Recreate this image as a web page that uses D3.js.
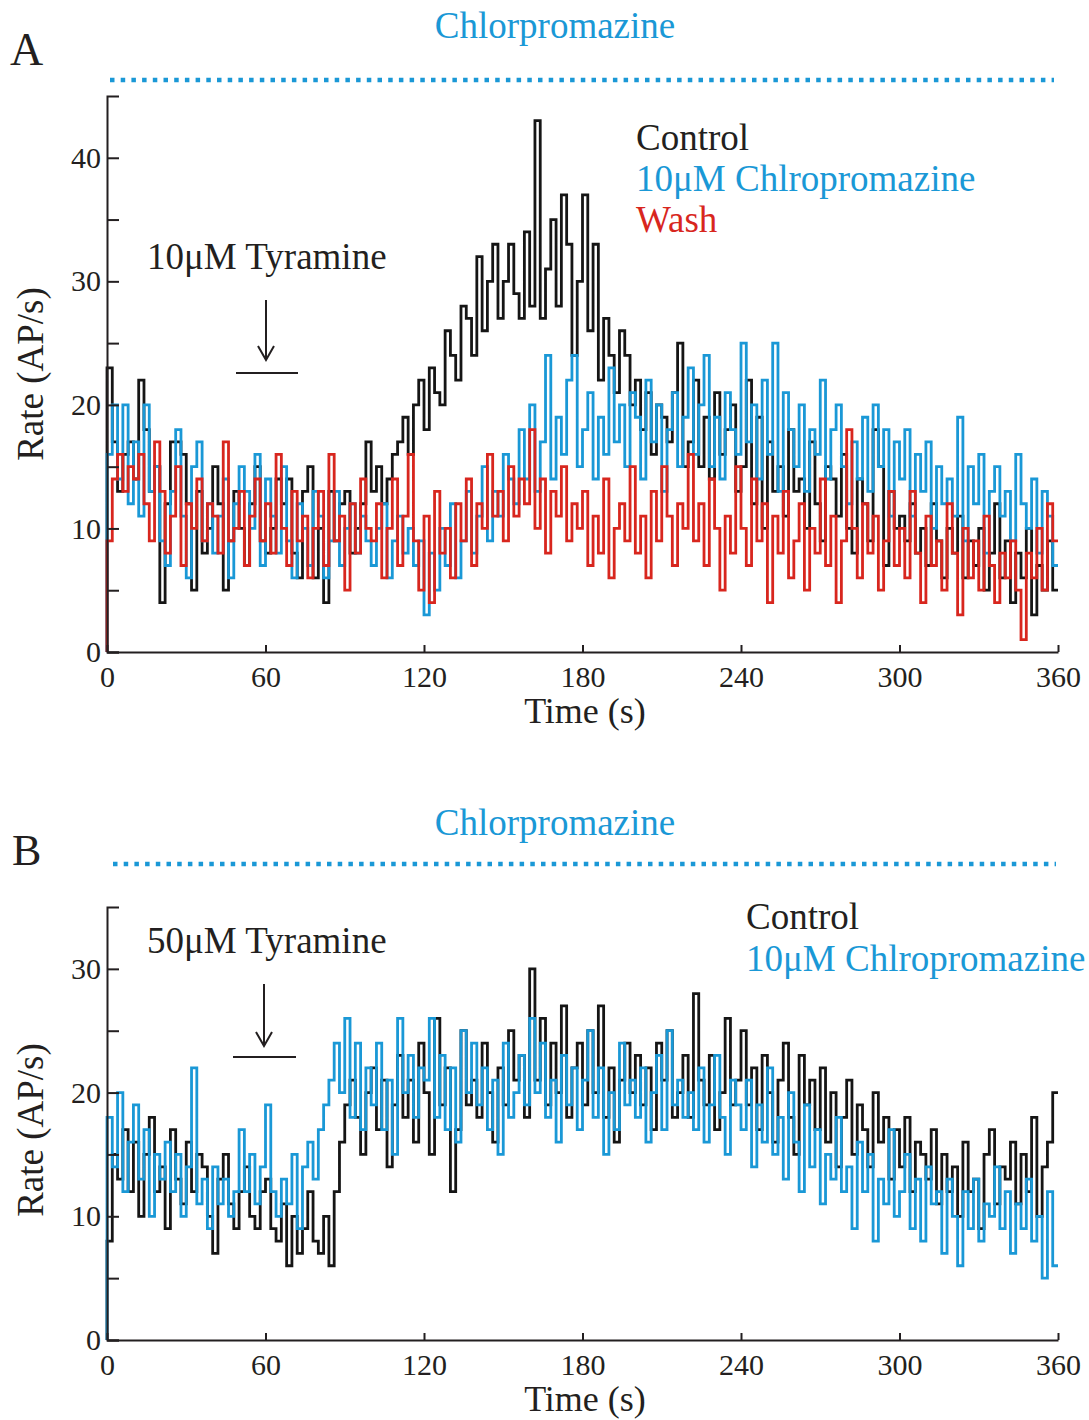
<!DOCTYPE html>
<html>
<head>
<meta charset="utf-8">
<script src="https://cdn.jsdelivr.net/npm/d3@7"></script>
<style>
  body { margin: 0; background: #fff; }
  text { font-family: "Liberation Serif", "Times New Roman", serif; }
</style>
</head>
<body>
<script>
// bins are 2 s wide, values in AP/s
const binWidth = 2;
const xTicks = [0, 60, 120, 180, 240, 300, 360];
const yTicksA = [0, 5, 10, 15, 20, 25, 30, 35, 40];
const yTicksB = [0, 5, 10, 15, 20, 25, 30];

// panel A: 10uM tyramine
const controlA = [
  23,17,13,16,17,14,22,18,13,15,
  4,12,17,17,16,12,5,13,8,10,
  15,12,5,9,13,10,7,12,15,9,
  8,10,14,12,14,8,6,13,15,6,
  10,4,13,9,12,13,8,10,12,17,
  13,15,12,14,16,17,19,16,20,22,
  18,23,21,20,26,24,22,28,27,24,
  32,26,30,33,27,30,33,29,27,34,
  28,43,27,31,35,28,37,33,24,30,
  37,26,33,22,27,24,21,26,24,20,
  22,18,21,16,20,19,17,21,25,15,
  17,22,15,19,14,21,16,18,20,13,
  15,22,12,19,10,17,13,15,11,18,
  13,14,10,17,12,9,15,14,11,16,
  10,8,14,12,9,18,15,7,13,10,
  11,9,12,8,10,7,12,9,6,10,
  8,11,6,9,7,10,5,8,12,6,
  9,4,8,6,10,3,7,5,9,5
];
const chlorA = [
  16,20,14,20,12,17,11,20,13,15,
  9,7,13,18,11,6,15,17,9,12,
  8,11,14,6,12,15,13,10,16,7,
  14,11,8,15,9,6,12,10,7,13,
  11,6,9,13,7,10,12,8,11,9,
  7,10,12,6,9,11,8,10,7,9,
  3,8,5,10,7,12,6,9,13,8,
  11,15,9,13,11,16,14,12,18,14,
  20,13,17,24,14,19,16,22,24,15,
  18,21,14,19,16,23,17,20,15,21,
  19,14,22,17,20,13,18,21,15,19,
  23,16,20,24,15,19,14,21,18,16,
  25,17,20,14,22,16,25,13,21,18,
  15,20,13,18,16,22,14,18,20,15,
  12,17,14,19,13,20,15,18,11,17,
  14,18,11,16,13,17,10,15,12,14,
  11,19,9,15,12,16,8,13,15,11,
  13,9,16,12,10,14,8,13,11,7
];
const washA = [
  9,14,16,13,15,14,16,12,9,17,
  13,8,11,15,7,12,10,14,9,12,
  11,8,17,9,10,13,7,11,14,9,
  12,8,16,10,7,13,9,11,6,10,
  13,7,16,9,11,5,12,8,14,10,
  9,12,6,10,14,7,11,16,9,5,
  11,4,13,8,10,6,12,9,14,7,
  12,10,16,11,13,9,15,11,14,12,
  18,10,14,8,13,11,15,9,12,10,
  13,7,11,8,14,6,10,12,9,15,
  8,11,6,13,9,15,11,7,12,10,
  16,9,12,7,14,10,5,11,8,15,
  10,7,14,9,12,4,11,8,13,6,
  9,12,5,10,8,14,7,11,4,9,
  18,10,6,12,8,11,5,9,13,7,
  10,6,13,8,4,11,7,9,5,12,
  8,3,10,6,9,5,11,7,4,8,
  6,9,5,1,8,6,10,5,12,9
];

// panel B: 50uM tyramine
const controlB = [
  8,15,13,17,12,16,10,15,18,12,
  14,9,17,13,11,16,12,15,14,10,
  7,13,15,11,9,12,14,10,9,12,
  13,9,8,11,6,10,7,9,12,8,
  7,10,6,12,16,19,21,18,15,20,
  22,17,21,14,19,23,18,21,16,24,
  20,15,26,19,22,12,17,25,19,21,
  18,24,20,16,22,19,25,21,23,18,
  30,21,26,19,24,20,27,18,22,24,
  19,25,20,27,18,22,16,21,24,20,
  23,19,22,17,24,21,25,18,20,23,
  18,28,21,19,23,17,20,26,19,21,
  25,19,22,17,23,20,16,21,24,18,
  15,23,19,21,17,22,16,20,14,18,
  21,15,19,17,14,20,16,18,13,17,
  14,18,12,16,15,13,17,11,15,12,
  14,10,16,12,13,9,15,17,11,14,
  13,16,11,15,12,18,10,14,16,20
];
const chlorB = [
  18,14,20,12,16,19,13,17,10,15,
  13,16,12,15,10,14,22,11,13,9,
  14,11,13,10,12,17,12,15,11,14,
  19,12,10,13,11,15,9,14,16,13,
  17,19,21,24,20,26,18,24,17,22,
  19,24,17,21,15,26,20,23,18,22,
  21,26,18,23,17,22,16,25,20,24,
  19,22,17,21,15,24,18,20,23,19,
  26,20,24,18,21,16,23,19,22,17,
  21,25,18,22,15,20,17,24,19,21,
  18,22,16,20,23,17,25,19,21,18,
  20,17,22,16,19,23,18,15,21,19,
  17,21,14,19,16,22,15,18,13,20,
  16,12,19,14,17,11,15,13,18,12,
  14,9,16,12,15,8,13,11,17,10,
  12,15,9,13,8,14,11,12,7,13,
  10,6,12,9,13,8,11,10,14,9,
  12,7,11,9,13,8,10,5,12,6
];

const blue = "#1a98d6", red = "#d8261e", ink = "#231f20";

const svg = d3.select("body").append("svg")
    .attr("width", 1089)
    .attr("height", 1420);

const x = d3.scaleLinear().domain([0, 360]).range([107, 1058]);
const yA = d3.scaleLinear().domain([0, 45]).range([652, 96]);
const yB = d3.scaleLinear().domain([0, 35]).range([1340, 907]);

function toSteps(vals) {
    const pts = [{ t: 0, v: 0 }];
    vals.forEach((v, i) => pts.push({ t: i * binWidth, v: v }));
    pts.push({ t: vals.length * binWidth, v: vals[vals.length - 1] });
    return pts;
}

function trace(y, vals, color) {
    svg.append("path")
        .datum(toSteps(vals))
        .attr("fill", "none")
        .attr("stroke", color)
        .attr("stroke-width", 2.8)
        .attr("d", d3.line()
            .curve(d3.curveStepAfter)
            .x(d => x(d.t))
            .y(d => y(d.v)));
}

function axes(y, yTicks) {
    const gx = svg.append("g")
        .attr("transform", "translate(0," + y(0) + ")")
        .call(d3.axisBottom(x).tickValues(xTicks).tickSizeInner(-7).tickSizeOuter(0).tickPadding(14));
    const gy = svg.append("g")
        .attr("transform", "translate(" + x(0) + ",0)")
        .call(d3.axisLeft(y).tickValues(yTicks).tickSizeInner(-12).tickSizeOuter(-12).tickPadding(6)
            .tickFormat(d => d % 10 === 0 ? d : ""));
    [gx, gy].forEach(g => {
        g.selectAll("path, line").attr("stroke", ink).attr("stroke-width", 2);
        g.selectAll("text").attr("fill", ink).attr("font-size", 30)
            .attr("font-family", "Liberation Serif");
    });
}

function label(tx, ty, str, size, color, anchor) {
    return svg.append("text")
        .attr("x", tx).attr("y", ty)
        .attr("font-size", size)
        .attr("fill", color || ink)
        .attr("text-anchor", anchor || "start")
        .text(str);
}

function arrow(ax, y0, y1, barY, barX0, barX1) {
    const g = svg.append("g").attr("stroke", ink).attr("stroke-width", 2).attr("fill", "none");
    g.append("line").attr("x1", ax).attr("x2", ax).attr("y1", y0).attr("y2", y1);
    g.append("path").attr("d", `M${ax - 8},${y1 - 14}L${ax},${y1}L${ax + 8},${y1 - 14}`);
    g.append("line").attr("x1", barX0).attr("x2", barX1).attr("y1", barY).attr("y2", barY);
}

function dotted(yy, x0, x1) {
    svg.append("line")
        .attr("x1", x0).attr("x2", x1).attr("y1", yy).attr("y2", yy)
        .attr("stroke", blue).attr("stroke-width", 4.5)
        .attr("stroke-dasharray", "4.5 6.2");
}

// ---- panel A
label(10, 65, "A", 46);
label(555, 38, "Chlorpromazine", 37, blue, "middle");
dotted(80, 110, 1054);
trace(yA, controlA, "#151515");
trace(yA, chlorA, blue);
trace(yA, washA, red);
axes(yA, yTicksA);
label(585, 723, "Time (s)", 36, ink, "middle");
label(0, 0, "Rate (AP/s)", 37, ink, "middle")
    .attr("transform", "translate(43,374) rotate(-90)");
label(147, 269, "10\u03bcM Tyramine", 37);
arrow(266, 300, 360, 373, 236, 298);
label(636, 150, "Control", 37);
label(636, 191, "10\u03bcM Chlropromazine", 37, blue);
label(636, 232, "Wash", 37, red);

// ---- panel B
label(12, 865, "B", 44);
label(555, 835, "Chlorpromazine", 37, blue, "middle");
dotted(864, 113, 1056);
trace(yB, controlB, "#151515");
trace(yB, chlorB, blue);
axes(yB, yTicksB);
label(585, 1411, "Time (s)", 36, ink, "middle");
label(0, 0, "Rate (AP/s)", 37, ink, "middle")
    .attr("transform", "translate(43,1130) rotate(-90)");
label(147, 953, "50\u03bcM Tyramine", 37);
arrow(264, 984, 1046, 1057, 233, 296);
label(746, 929, "Control", 37);
label(746, 971, "10\u03bcM Chlropromazine", 37, blue);
</script>
</body>
</html>
